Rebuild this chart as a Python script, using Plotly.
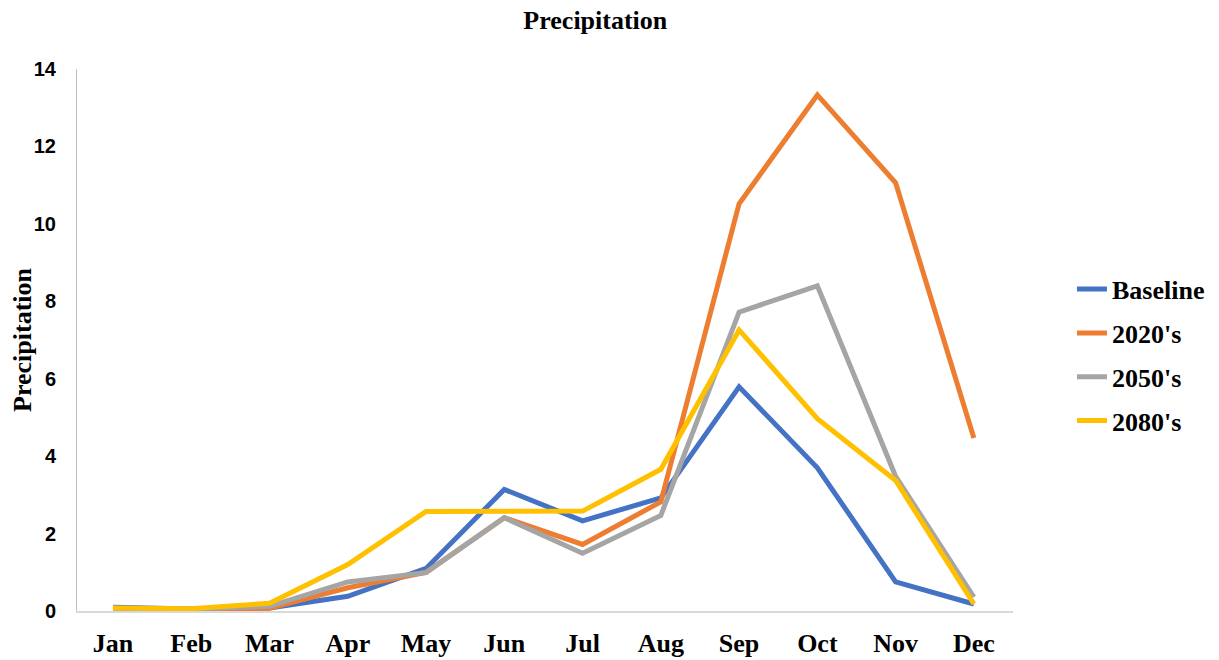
import plotly.graph_objects as go

months = ["Jan", "Feb", "Mar", "Apr", "May", "Jun", "Jul", "Aug", "Sep", "Oct", "Nov", "Dec"]
baseline = [0.10, 0.05, 0.08, 0.38, 1.10, 3.14, 2.33, 2.92, 5.79, 3.70, 0.75, 0.18]
s2020 = [0.05, 0.04, 0.07, 0.60, 1.00, 2.41, 1.72, 2.82, 10.52, 13.33, 11.06, 4.47]
s2050 = [0.07, 0.05, 0.12, 0.75, 0.99, 2.41, 1.49, 2.47, 7.72, 8.40, 3.48, 0.36]
s2080 = [0.08, 0.06, 0.20, 1.20, 2.57, 2.58, 2.58, 3.66, 7.26, 4.97, 3.37, 0.18]

names = ["Baseline", "2020's", "2050's", "2080's"]
colors = ["#4472C4", "#ED7D31", "#A5A5A5", "#FFC000"]
series = [baseline, s2020, s2050, s2080]

fig = go.Figure()
for i, (n, c, s) in enumerate(zip(names, colors, series)):
    fig.add_trace(go.Scatter(x=months, y=s, name="<b>" + n + "</b>", mode="lines",
                             line=dict(color=c, width=5), legendgroup=str(i)))

serif = "Liberation Serif, Times New Roman, serif"
sans = "Liberation Sans, Arial, sans-serif"

fig.update_layout(
    width=1211, height=652,
    paper_bgcolor="white", plot_bgcolor="white",
    margin=dict(l=69, r=206, t=61, b=49, autoexpand=False),
    title=dict(text="<b>Precipitation</b>", x=0.485, xanchor="center", y=0.995, yanchor="top",
               pad=dict(t=0, b=0), font=dict(family=serif, size=26, color="black")),
    xaxis=dict(range=[-0.46, 11.5], showgrid=False, showline=True, linecolor="#d9d9d9", linewidth=1.5,
               ticks="", tickfont=dict(family=serif, size=26, color="black"), ticklabelstandoff=8,
               automargin=False),
    yaxis=dict(range=[0, 14], dtick=2, showgrid=False, showline=True, linecolor="#bfbfbf", linewidth=1,
               ticks="", tickfont=dict(family=sans, size=20, color="black"), ticklabelstandoff=16,
               tickprefix="<b>", ticksuffix="</b>", automargin=False,
               title=dict(text="<b>Precipitation</b>", font=dict(family=serif, size=26, color="black"),
                          standoff=8), zeroline=False),
    xaxis_tickprefix="<b>", xaxis_ticksuffix="</b>",
    legend=dict(x=1.063, xanchor="left", y=0.472, yanchor="middle", traceorder="grouped",
                tracegroupgap=7, font=dict(family=serif, size=26, color="black"),
                bgcolor="rgba(0,0,0,0)"),
)

fig.write_html("out.html")
